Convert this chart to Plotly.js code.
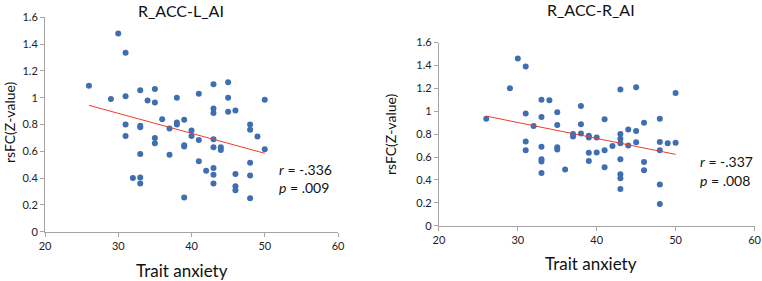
<!DOCTYPE html>
<html>
<head>
<meta charset="utf-8">
<script src="https://cdn.plot.ly/plotly-3.0.1.min.js"></script>
<style>html,body{margin:0;padding:0;background:#fff;}#chart{width:762px;height:281px;}</style>
</head>
<body>
<div id="chart"></div>
<script>
// ---- data ----
const titles = ["R_ACC-L_AI", "R_ACC-R_AI"];
const xTitle = "Trait anxiety";
const yTitle = "rsFC(Z-value)";

const leftX = [26,29,30,31,31,31,31,32,33,33,33,33,33,33,34,35,35,35,35,36,37,37,38,38,38,39,39,39,39,40,40,41,41,41,42,43,43,43,43,43,43,43,43,44,44,45,45,45,46,46,46,46,48,48,48,48,48,49,50,50];
const leftY = [1.09,0.99,1.48,1.335,1.01,0.80,0.715,0.40,1.055,0.79,0.78,0.58,0.405,0.36,0.98,1.065,0.965,0.70,0.66,0.84,0.77,0.575,1.0,0.815,0.80,0.835,0.645,0.635,0.255,0.755,0.715,1.03,0.685,0.525,0.455,1.10,0.92,0.885,0.69,0.63,0.475,0.425,0.36,0.63,0.61,1.115,1.0,0.895,0.905,0.43,0.34,0.31,0.80,0.76,0.515,0.42,0.25,0.71,0.985,0.615];

const rightX = [26,29,30,31,31,31,31,32,33,33,33,33,33,33,34,35,35,35,35,36,37,37,38,38,38,39,39,39,39,40,40,41,41,41,42,43,43,43,43,43,43,43,43,44,44,45,45,45,46,46,46,48,48,48,48,48,49,50,50];
const rightY = [0.935,1.20,1.46,1.39,0.98,0.735,0.66,0.87,1.10,0.95,0.69,0.58,0.56,0.46,1.095,0.99,0.88,0.685,0.665,0.49,0.80,0.78,1.045,0.885,0.805,0.785,0.77,0.637,0.565,0.77,0.64,0.93,0.66,0.51,0.695,1.19,0.80,0.76,0.72,0.58,0.45,0.415,0.32,0.84,0.70,1.21,0.826,0.728,0.90,0.556,0.485,0.935,0.73,0.66,0.36,0.19,0.72,1.16,0.725];

// trend lines (end points)
const fitLeftX = [26, 50];
const fitLeftY = [0.943, 0.585];
const fitRightX = [26, 50];
const fitRightY = [0.957, 0.623];

const stats = [["-.336", ".009"], ["-.337", ".008"]];

const xTicks = [20, 30, 40, 50, 60];
const yTicks = [0, 0.2, 0.4, 0.6, 0.8, 1, 1.2, 1.4, 1.6];
const yTickText = ["0", "0.2", "0.4", "0.6", "0.8", "1", "1.2", "1.4", "1.6"];

// ---- styling ----
const FONT = "Lato, 'Open Sans', sans-serif";
const dotColor = "#3f6eb3";
const lineColor = "#ee3b2f";
const axisColor = "#a6a6a6";

const traces = [
  {x: leftX, y: leftY, type: "scatter", mode: "markers", xaxis: "x", yaxis: "y",
   marker: {color: dotColor, size: 6}, hoverinfo: "none"},
  {x: fitLeftX, y: fitLeftY, type: "scatter", mode: "lines", xaxis: "x", yaxis: "y",
   line: {color: lineColor, width: 1}, hoverinfo: "none"},
  {x: rightX, y: rightY, type: "scatter", mode: "markers", xaxis: "x2", yaxis: "y2",
   marker: {color: dotColor, size: 6}, hoverinfo: "none"},
  {x: fitRightX, y: fitRightY, type: "scatter", mode: "lines", xaxis: "x2", yaxis: "y2",
   line: {color: lineColor, width: 1}, hoverinfo: "none"}
];

function xAxis(domain, anchor) {
  return {domain: domain, anchor: anchor, range: [20, 60], tickmode: "array", tickvals: xTicks,
    showgrid: false, zeroline: false, showline: true, linecolor: axisColor, linewidth: 1,
    ticks: "outside", ticklen: 4, tickcolor: axisColor,
    tickfont: {family: FONT, size: 11, color: "#222"}, fixedrange: true};
}
function yAxis(domain, anchor) {
  return {domain: domain, anchor: anchor, range: [0, 1.6], tickmode: "array", tickvals: yTicks, ticktext: yTickText,
    showgrid: false, zeroline: false, showline: true, linecolor: axisColor, linewidth: 1,
    ticks: "outside", ticklen: 4, tickcolor: axisColor,
    tickfont: {family: FONT, size: 11, color: "#222"}, fixedrange: true};
}

const W = 762, H = 281;
const px = v => v / W, py = v => 1 - v / H;

const annotations = [
  {text: titles[0], x: px(181), y: py(11), size: 16},
  {text: titles[1], x: px(591), y: py(10), size: 16},
  {text: xTitle, x: px(182), y: py(270), size: 17},
  {text: xTitle, x: px(591), y: py(263), size: 17},
  {text: yTitle, x: px(10), y: py(122), size: 14, angle: -90},
  {text: yTitle, x: px(390), y: py(134), size: 14, angle: -90},
  {text: "<i>r</i> = " + stats[0][0], x: px(277), y: py(169), size: 14, xanchor: "left"},
  {text: "<i>p</i> = " + stats[0][1], x: px(277), y: py(187.5), size: 14, xanchor: "left"},
  {text: "<i>r</i> = " + stats[1][0], x: px(698), y: py(161.5), size: 14, xanchor: "left"},
  {text: "<i>p</i> = " + stats[1][1], x: px(698), y: py(180.5), size: 14, xanchor: "left"}
].map(a => ({
  text: a.text, x: a.x, y: a.y, xref: "paper", yref: "paper",
  xanchor: a.xanchor || "center", yanchor: "middle", showarrow: false,
  textangle: a.angle || 0,
  font: {family: FONT, size: a.size || 15, color: "#111"}
}));

const layout = {
  width: W, height: H, margin: {l: 0, r: 0, t: 0, b: 0},
  paper_bgcolor: "#fff", plot_bgcolor: "#fff", showlegend: false,
  xaxis: xAxis([px(45), px(338)], "y"),
  yaxis: yAxis([1 - 231.7 / H, 1 - 17.3 / H], "x"),
  xaxis2: xAxis([px(438.9), px(754.5)], "y2"),
  yaxis2: yAxis([1 - 225.7 / H, 1 - 42.5 / H], "x2"),
  annotations: annotations
};

Plotly.newPlot("chart", traces, layout, {staticPlot: true, displayModeBar: false});
</script>
</body>
</html>
